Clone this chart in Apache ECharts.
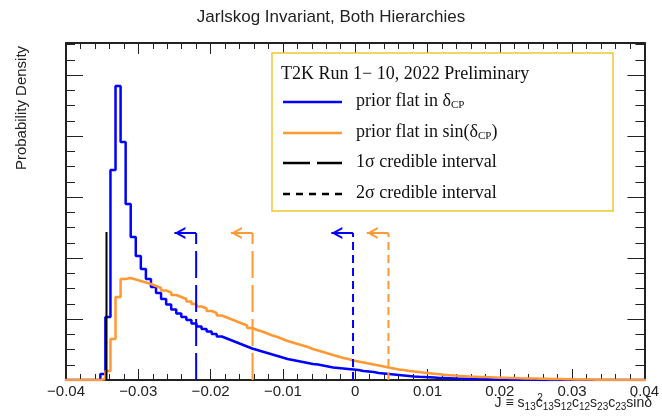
<!DOCTYPE html>
<html><head><meta charset="utf-8">
<script src="https://cdn.jsdelivr.net/npm/echarts@6/dist/echarts.min.js"></script>
<style>html,body{margin:0;padding:0;background:#fff}#c{width:662px;height:420px}</style>
</head><body><div id="c"></div>
<script>
// ---- data ----
const binStart = -0.04015;
const binWidth = 0.0007;
// prior flat in delta_CP (arbitrary density units)
const flatDeltaCP = [0,0,0,0,0,0,
  0,6,63,210,294,238,176,143,124,111,101,93,87,81,75.5,70.5,66.5,63,60,56.5,53.5,51,48.5,46,43.5,41.5,39.5,37.5,35.5,33.5,
  31.5,30,28.5,27,25.5,24,22.5,21,20,19,18,17,16,15.5,14.5,13.5,12.5,12,11.5,11,10.5,10,9,8.5,8,7,6.5,6,5.5,5,
  4.5,4,3.5,3.2,3,2.7,2.4,2.1,1.9,1.7,1.5,1.3,1.2,1.1,1.0,0.9,0.8,0.7,0.6,0.5,0.4,0.4,0.3,0.3,0.2,0.2,0.2,0.1,0.1,0.1,0.1,
  0,0,0,0,0,0,0,0,0,0,0,0,0,0,0,0,0,0];
// prior flat in sin(delta_CP)
const flatSinDeltaCP = [0,0,0,0,0,0,
  0,1,9,41,83,101,102,100.5,99,97.5,96,94,92,89.5,87.5,85,83,81,78.5,76,73.5,71.5,69,67,64.5,62.5,60.5,58.5,56.5,54.5,
  52,50,48.5,46.5,44.5,43,41,39,37.5,36,34.5,33,31,29.5,28,26.5,25,23.5,22,21,19.5,18.5,17.5,16.5,15.5,14.5,13.5,12.5,11.5,10.5,
  10,9,8.5,8,7.2,6.7,6.2,5.7,5.2,4.8,4.4,4.1,3.8,3.5,3.3,3.1,2.9,2.7,2.5,2.3,2.2,2.0,1.9,1.7,1.6,1.5,1.4,1.3,1.2,1.1,
  1.0,0.9,0.8,0.7,0.6,0.5,0.4,0.4,0.3,0.3,0.2,0.2,0.1,0.1,0.1,0,0,0,0];
const xTickLabels = ['\u22120.04','\u22120.03','\u22120.02','\u22120.01','0','0.01','0.02','0.03','0.04'];
// credible interval upper bounds: [1σ flat δ, 1σ flat sinδ, 2σ flat δ, 2σ flat sinδ]
const intervalBounds = [-0.0220, -0.0142, -0.0003, 0.0046];
const intervalPrior = ['delta','sin','delta','sin'];
const intervalLevel = [1, 1, 2, 2];
const intervalHeight = 147;
const arrowLength = 0.0030;
const edgeLineX = -0.0344;
const edgeLineHeight = 148;

// ---- styles ----
const COL = {delta:'#0000ff', sin:'#ff9933'};
const DASH = {1:[27,7], 2:[8,5]};
const AXC = '#222';
const SANS = '"Liberation Sans", Arial, sans-serif';
const SERIF = '"Liberation Serif", "Times New Roman", serif';
const CHEVRON = 'path://M12,0 L0,6 L12,12 L12,9.8 L4.4,6 L12,2.2 Z';

function stepPoints(vals){
  const pts=[];
  vals.forEach((v,k)=>{const a=binStart+k*binWidth; pts.push([a,v],[a+binWidth,v]);});
  return pts;
}

const series = [];
series.push({type:'line', data:stepPoints(flatDeltaCP), symbol:'none', lineStyle:{color:COL.delta,width:2.5}, z:3});
series.push({type:'line', data:stepPoints(flatSinDeltaCP), symbol:'none', lineStyle:{color:COL.sin,width:2.5}, z:4});
intervalBounds.forEach((b,i)=>{
  const c = COL[intervalPrior[i]];
  series.push({type:'line', data:[[b,0],[b,intervalHeight]], symbol:'none',
    lineStyle:{color:c,width:2,type:DASH[intervalLevel[i]]}, z:5});
  series.push({type:'line', data:[{value:[b,intervalHeight],symbol:'none'},[b-arrowLength,intervalHeight]],
    symbol:CHEVRON, symbolSize:[11,12], symbolOffset:[5.5,0], showSymbol:true,
    itemStyle:{color:c}, lineStyle:{color:c,width:2}, z:5});
});
series.push({type:'line', data:[[edgeLineX,0],[edgeLineX,edgeLineHeight]], symbol:'none', lineStyle:{color:'#000',width:2}, z:6});

const xCommon = {type:'value', min:-0.04, max:0.04, interval:0.01,
  axisLine:{show:true,onZero:false,lineStyle:{color:AXC,width:2}},
  axisTick:{show:true,inside:true,length:11,lineStyle:{color:AXC,width:1}},
  minorTick:{show:true,splitNumber:5,length:6,lineStyle:{color:AXC,width:1}},
  splitLine:{show:false}};
function yAx(pos, interval, len, line){
  return {type:'value', position:pos, min:0, max:337, interval:interval,
    axisLine:{show:line,onZero:false,lineStyle:{color:AXC,width:2}},
    axisTick:{show:true,inside:true,length:len,lineStyle:{color:AXC,width:1}},
    axisLabel:{show:false}, splitLine:{show:false}};
}

const legendRows = [
  {y:102, color:COL.delta, dash:null, text:'{m|prior flat in δ}{s|CP}'},
  {y:133, color:COL.sin, dash:null, text:'{m|prior flat in sin(δ}{s|CP}{m|)}'},
  {y:163, color:'#000', dash:[27,7], text:'{m|1σ credible interval}'},
  {y:194, color:'#000', dash:[7,6], text:'{m|2σ credible interval}'}
];
const graphic = [
  {type:'rect', z:100, shape:{x:272,y:53,width:341,height:158}, style:{fill:'#fff',stroke:'#f0c832',lineWidth:1.5}},
  {type:'text', z:101, x:281, y:74, style:{text:'T2K Run 1\u2212 10, 2022 Preliminary', font:'18px '+SERIF, fill:'#111', verticalAlign:'middle'}},
  {type:'text', z:101, x:22, y:108, rotation:Math.PI/2, style:{text:'Probability Density', font:'15px '+SANS, fill:AXC, align:'center', verticalAlign:'middle'}},
  {type:'text', z:101, x:652, y:403, style:{
    text:'J ≡ s{sub|13}c{sup|2}{sub|13}s{sub|12}c{sub|12}s{sub|23}c{sub|23}sinδ',
    font:'14px '+SANS, fill:AXC, align:'right', verticalAlign:'middle',
    rich:{sub:{font:'10px '+SANS, fill:AXC, padding:[9,0,0,0]}, sup:{font:'10px '+SANS, fill:AXC, width:0, padding:[0,0,10,0]}}}}
];
legendRows.forEach(r=>{
  graphic.push({type:'line', z:101, shape:{x1:283,y1:r.y,x2:342,y2:r.y}, style:{stroke:r.color,lineWidth:2.5,lineDash:r.dash||null}});
  graphic.push({type:'text', z:101, x:356, y:r.y-1, style:{text:r.text, font:'18px '+SERIF, fill:'#111', verticalAlign:'middle',
    rich:{m:{font:'18px '+SERIF, fill:'#111'}, s:{font:'11px '+SERIF, fill:'#111', padding:[9,0,0,0]}}}});
});

const chart = echarts.init(document.getElementById('c'), null, {renderer:'canvas'});
chart.setOption({
  animation:false,
  backgroundColor:'#fff',
  title:{text:'Jarlskog Invariant, Both Hierarchies', left:'center', top:4,
    textStyle:{fontSize:17, fontWeight:'normal', fontFamily:SANS, color:AXC}},
  grid:{left:66, right:12, top:43, bottom:40},
  xAxis:[
    Object.assign({}, xCommon, {position:'bottom',
      axisLabel:{show:true, margin:4, fontSize:15, fontFamily:SANS, color:AXC,
        formatter:(v)=>xTickLabels[Math.round((v+0.04)/0.01)]}}),
    Object.assign({}, xCommon, {position:'top', axisLabel:{show:false}})
  ],
  yAxis:[yAx('left',61,17,true), yAx('left',15.25,9,false), yAx('right',61,17,true), yAx('right',15.25,9,false)],
  series:series,
  graphic:graphic
});
</script></body></html>
